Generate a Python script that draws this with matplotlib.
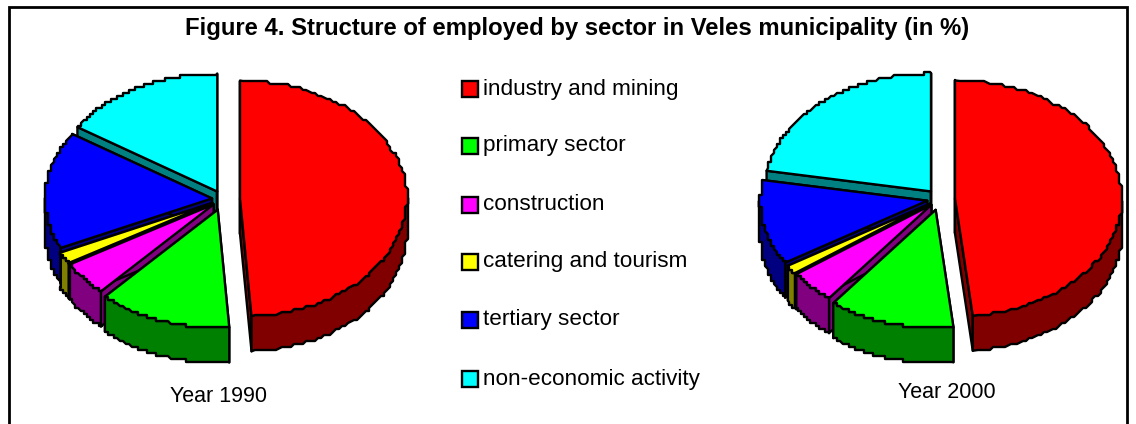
import numpy as np
import matplotlib
matplotlib.use('Agg')
import matplotlib.pyplot as plt
from matplotlib.patches import Polygon, Rectangle

plt.rcParams['font.family'] = ['Liberation Sans', 'DejaVu Sans']

sectors = ['industry and mining', 'primary sector', 'construction',
           'catering and tourism', 'tertiary sector', 'non-economic activity']
year_1990 = [48.9, 12.9, 4.7, 1.6, 16.1, 15.8]
year_2000 = [48.3, 12.2, 4.5, 1.2, 11.6, 22.2]

title = 'Figure 4. Structure of employed by sector in Veles municipality (in %)'

# top faces and the darker side walls
colors = ['#ff0000', '#00ff00', '#ff00ff', '#ffff00', '#0000ff', '#00ffff']
dark = ['#800000', '#008000', '#800080', '#808000', '#000080', '#008080']

# pie layout in pixels
rx, ry, depth = 167, 118, 35
explode_1990 = [17, 16, 12, 12, 11, 12]
explode_2000 = [15, 16, 12, 12, 13, 14]
lw = 1.7
step = 3  # the outline of the original is stair-stepped


def draw_pie(ax, values, explode, cx, cy):
    edges = np.concatenate([[0], np.cumsum(values)]) / np.sum(values) * 2 * np.pi
    # back slices first, so the front ones paint over them
    for i in range(len(values) - 1, -1, -1):
        a0, a1 = edges[i], edges[i + 1]
        mid = (a0 + a1) / 2
        x0 = cx + explode[i] * np.sin(mid)
        y0 = cy - explode[i] * np.cos(mid) * ry / rx
        t = np.linspace(a0, a1, 120)
        xs = x0 + rx * np.sin(t)
        ys = y0 - ry * np.cos(t)
        xs[1:-1] = np.round(xs[1:-1] / step) * step
        ys[1:-1] = np.round(ys[1:-1] / step) * step

        # radial walls
        for xe, ye in [(xs[0], ys[0]), (xs[-1], ys[-1])]:
            ax.add_patch(Polygon([(x0, y0), (xe, ye), (xe, ye + depth), (x0, y0 + depth)],
                                 fc=dark[i], ec='k', lw=lw, joinstyle='round'))
        # outer rim, only the part facing front
        front = (t >= np.pi / 2) & (t <= 3 * np.pi / 2)
        if front.any():
            fx, fy = xs[front], ys[front]
            ax.add_patch(Polygon(np.r_[np.c_[fx, fy], np.c_[fx[::-1], fy[::-1] + depth]],
                                 fc=dark[i], ec='k', lw=lw, joinstyle='round'))
        # top face
        ax.add_patch(Polygon(np.r_[[(x0, y0)], np.c_[xs, ys]],
                             fc=colors[i], ec='k', lw=lw, joinstyle='round'))


fig = plt.figure(figsize=(11.36, 4.24), dpi=100)
ax = fig.add_axes([0, 0, 1, 1])
ax.set_xlim(0, 1136)
ax.set_ylim(424, 0)
ax.axis('off')

# outer frame
ax.add_patch(Rectangle((9, 7), 1118, 430, fc='white', ec='k', lw=2))

ax.text(577, 29, title, fontsize=17.2, fontweight='bold', ha='center', va='center')

draw_pie(ax, year_1990, explode_1990, 223, 199)
draw_pie(ax, year_2000, explode_2000, 940, 199)

ax.text(219, 397, 'Year 1990', fontsize=15.5, ha='center', va='center')
ax.text(947, 393, 'Year 2000', fontsize=15.5, ha='center', va='center')

legend_y = [89, 146, 205, 262, 320, 379]
for name, col, y in zip(sectors, colors, legend_y):
    ax.add_patch(Rectangle((462, y - 8), 16, 16, fc=col, ec='k', lw=1.7))
    ax.text(483, y, name, fontsize=16.2, ha='left', va='center')

fig.savefig('out.png', dpi=100)
